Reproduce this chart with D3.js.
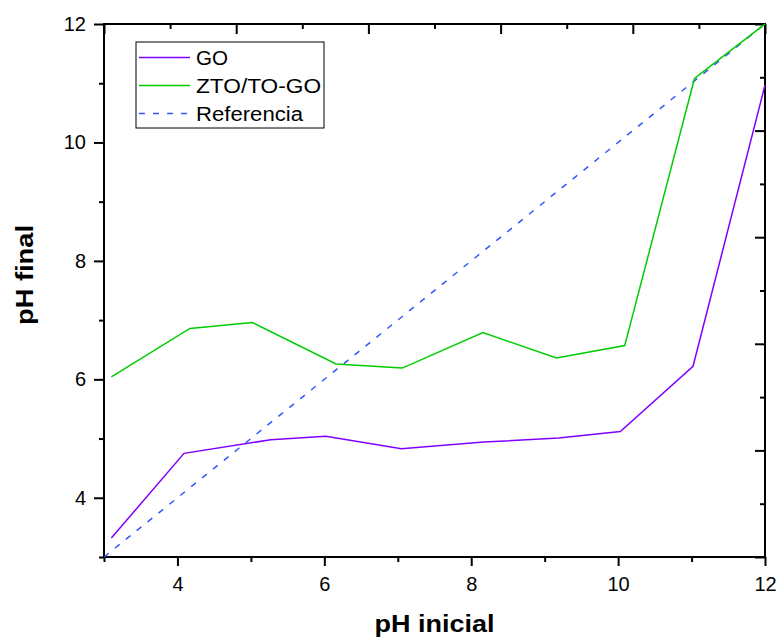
<!DOCTYPE html>
<html>
<head>
<meta charset="utf-8">
<script src="https://cdn.jsdelivr.net/npm/d3@7"></script>
<style>
  html, body { margin: 0; padding: 0; background: #fff; }
  svg text { font-family: "Liberation Sans", Arial, sans-serif; }
</style>
</head>
<body>
<svg id="chart" width="781" height="639"></svg>
<script>
// pH inicial vs pH final
const goX   = [3.10, 4.09, 5.27, 6.02, 7.05, 8.17, 9.19, 10.03, 11.02, 12.0];
const goY   = [3.32, 4.75, 4.98, 5.04, 4.83, 4.94, 5.01, 5.12, 6.22, 10.97];
const ztoX  = [3.10, 4.17, 5.02, 6.16, 7.06, 8.16, 9.16, 10.09, 11.04, 12.0];
const ztoY  = [6.04, 6.86, 6.96, 6.26, 6.19, 6.79, 6.36, 6.57, 11.08, 12.0];
const refX  = [3, 12];
const refY  = [3, 12];

const seriesNames = ["GO", "ZTO/TO-GO", "Referencia"];
const seriesColors = ["#8000ff", "#00cc00", "#3355ff"];

const xTicks = [3, 4, 5, 6, 7, 8, 9, 10, 11, 12];
const yTicks = [3, 4, 5, 6, 7, 8, 9, 10, 11, 12];
const xMajor = [4, 6, 8, 10, 12];
const yMajor = [4, 6, 8, 10, 12];
// opposite axes carry their own unlabeled 10-division scale
const oppTicks = [0, 1, 2, 3, 4, 5, 6, 7, 8, 9, 10];
const oppMajor = [0, 2, 4, 6, 8, 10];

const margin = { left: 104, right: 16, top: 24, bottom: 82 };
const W = 781, H = 639;
const innerW = W - margin.left - margin.right;
const innerH = H - margin.top - margin.bottom;

const svg = d3.select("#chart");
const g = svg.append("g").attr("transform", `translate(${margin.left},${margin.top})`);

const x = d3.scaleLinear().domain([3, 12]).range([0, innerW]);
const y = d3.scaleLinear().domain([3, 12]).range([innerH, 0]);
const xo = d3.scaleLinear().domain([0, 10]).range([0, innerW]);
const yo = d3.scaleLinear().domain([0, 10]).range([innerH, 0]);

const fmtX = d => (xMajor.includes(d) ? d3.format("d")(d) : "");
const fmtY = d => (yMajor.includes(d) ? d3.format("d")(d) : "");

function styleAxis(sel) {
  sel.attr("font-size", 20).attr("font-family", "Liberation Sans, Arial, sans-serif");
  sel.select(".domain").remove();
  sel.selectAll(".tick line")
    .attr("stroke", "#000").attr("stroke-width", 2);
  sel.selectAll(".tick text")
    .attr("fill", "#000").style("font-size", "20px");
  return sel;
}

// bottom axis
const axBottom = g.append("g").attr("transform", `translate(0,${innerH})`)
  .call(d3.axisBottom(x).tickValues(xTicks).tickFormat(fmtX).tickSizeOuter(0));
styleAxis(axBottom);
axBottom.selectAll(".tick line").attr("y2", d => xMajor.includes(d) ? 9 : 5);
axBottom.selectAll(".tick text").attr("y", 20);

// left axis
const axLeft = g.append("g")
  .call(d3.axisLeft(y).tickValues(yTicks).tickFormat(fmtY).tickSizeOuter(0));
styleAxis(axLeft);
axLeft.selectAll(".tick line").attr("x2", d => yMajor.includes(d) ? -10 : -5);
axLeft.selectAll(".tick text").attr("x", -18);

// top axis (ticks inward)
const axTop = g.append("g")
  .call(d3.axisTop(xo).tickValues(oppTicks).tickFormat("").tickSizeOuter(0));
styleAxis(axTop);
axTop.selectAll(".tick line").attr("y2", d => oppMajor.includes(d) ? 10 : 5);

// right axis (ticks inward)
const axRight = g.append("g").attr("transform", `translate(${innerW},0)`)
  .call(d3.axisRight(yo).tickValues(oppTicks).tickFormat("").tickSizeOuter(0));
styleAxis(axRight);
axRight.selectAll(".tick line").attr("x2", d => oppMajor.includes(d) ? -10 : -5);

// frame
g.append("rect")
  .attr("x", 0).attr("y", 0).attr("width", innerW).attr("height", innerH)
  .attr("fill", "none").attr("stroke", "#000").attr("stroke-width", 2);

// series
const line = d3.line().x(d => x(d[0])).y(d => y(d[1]));
const series = [
  { pts: d3.zip(goX, goY), color: seriesColors[0], dash: null },
  { pts: d3.zip(ztoX, ztoY), color: seriesColors[1], dash: null },
  { pts: d3.zip(refX, refY), color: seriesColors[2], dash: "6,8" }
];
// reference drawn first so solid lines sit on top
[series[2], series[0], series[1]].forEach(s => {
  g.append("path")
    .datum(s.pts)
    .attr("d", line)
    .attr("fill", "none")
    .attr("stroke", s.color)
    .attr("stroke-width", 1.5)
    .attr("stroke-dasharray", s.dash);
});

// axis titles
svg.append("text")
  .attr("x", margin.left + innerW / 2).attr("y", 632)
  .attr("text-anchor", "middle")
  .style("font-size", "24px").style("font-weight", "bold")
  .attr("textLength", 120).attr("lengthAdjust", "spacingAndGlyphs")
  .text("pH inicial");

svg.append("text")
  .attr("transform", "translate(33,275) rotate(-90)")
  .attr("text-anchor", "middle")
  .style("font-size", "24px").style("font-weight", "bold")
  .attr("textLength", 100).attr("lengthAdjust", "spacingAndGlyphs")
  .text("pH final");

// legend
const legend = svg.append("g");
legend.append("rect")
  .attr("x", 136).attr("y", 42).attr("width", 188).attr("height", 86)
  .attr("fill", "#fff").attr("stroke", "#000").attr("stroke-width", 1);
const legendDash = [null, null, "6,8"];
const legendTextWidth = [32, 125, 107];
seriesNames.forEach((name, i) => {
  const cy = 57.5 + i * 28;
  legend.append("line")
    .attr("x1", 139).attr("x2", 190).attr("y1", cy).attr("y2", cy)
    .attr("stroke", seriesColors[i]).attr("stroke-width", 1.5)
    .attr("stroke-dasharray", legendDash[i]);
  legend.append("text")
    .attr("x", 196).attr("y", cy + 7.5)
    .style("font-size", "20px").attr("fill", "#000")
    .attr("textLength", legendTextWidth[i]).attr("lengthAdjust", "spacingAndGlyphs")
    .text(name);
});
</script>
</body>
</html>
